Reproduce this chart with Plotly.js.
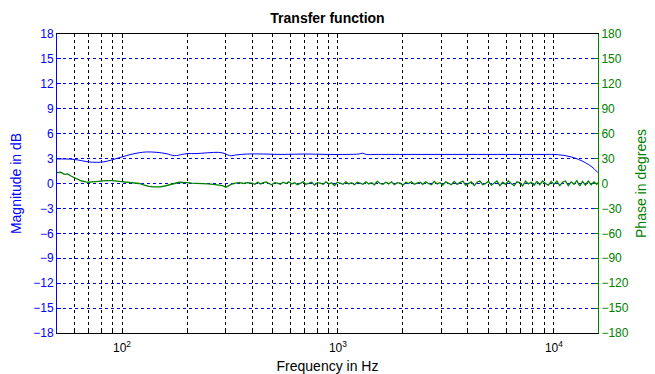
<!DOCTYPE html>
<html><head><meta charset="utf-8">
<script src="https://cdn.plot.ly/plotly-3.0.1.min.js"></script>
<style>html,body{margin:0;padding:0;background:#fff}#plot{width:655px;height:374px}</style>
</head><body><div id="plot"></div>
<script>
// Magnitude (dB) vs frequency (Hz)
const magFreq = [50,55,60,65,70,76,82,90,100,110,120,130,145,160,175,190,200,220,250,280,300,315,340,380,450,550,700,900,1100,1250,1300,1350,1500,2000,3000,5000,7000,9000,10000,11000,12000,13000,14000,15000,16000];
const magDb = [2.95,2.95,2.9,2.75,2.6,2.55,2.6,2.85,3.2,3.5,3.7,3.8,3.75,3.6,3.35,3.5,3.6,3.6,3.7,3.75,3.6,3.35,3.45,3.55,3.55,3.5,3.55,3.5,3.5,3.55,3.65,3.5,3.5,3.5,3.5,3.5,3.5,3.5,3.5,3.4,3.2,2.9,2.5,2.0,1.3];

// Phase (degrees) vs frequency (Hz)
const phaseFreqLow = [50,52,54,56,58,60,62,65,68,70,73,76,80,85,90,95,100,105,110,115,120,127,133,140,150,158,165,175,184,192,200,210,220,235,250,265,280,292,303,310,320,335,350,365,380];
const phaseLow = [13,13.5,11,11.5,9,7,6,3,2,1.5,2,2.5,3,3.5,3.5,3,2.5,2,1.5,0.5,0,-2,-3.5,-4,-4,-3,-2,0,1.5,1.5,1,0.5,0,-0.5,-0.5,-1,-1.5,-2.5,-4.5,-3,-1,0.5,1,0,1];
const phaseFreqHigh = [400,412,425,438,451,465,479,494,509,525,541,558,575,593,611,630,649,669,690,711,733,756,779,803,828,854,880,907,935,964,994,1025,1056,1089,1122,1157,1193,1229,1267,1306,1347,1388,1431,1475,1521,1568,1616,1666,1717,1770,1825,1881,1939,1999,2061,2124,2190,2257,2327,2399,2473,2549,2628,2709,2793,2879,2968,3059,3154,3251,3351,3455,3561,3671,3784,3901,4022,4146,4274,4406,4542,4682,4826,4975,5129,5287,5450,5619,5792,5971,6155,6345,6541,6743,6951,7166,7387,7615,7850,8093,8342,8600,8866,9139,9421,9712,10012,10321,10640,10968,11307,11656,12016,12387,12769,13164,13570,13989,14421,14866,15325,15799,16000];
const phaseHigh = [0.5,-1,1.5,-0.5,1,2,0,-1.5,1,0.5,
 -1,1.5,0,2,-0.5,1,-1.5,0.5,2,-1,
 0,1.5,-2,1,0.5,-1,2,-0.5,1,-2.5,
 1.5,0,-1,2,-0.5,1,-1.5,1.5,0,-1,
 2,-0.5,1,-1.5,2.5,0,-1,1.5,-0.5,2,
 -1.5,1,0.5,-2,1.5,0,2,-1,0.5,1.5,
 -1,2,0,-1.5,2.5,-0.5,1,-2,2,0,
 -1.5,2.5,-1,1,3,-2,0.5,2,-2.5,1.5,
 3,-1.5,0,2.5,-2,1,3,-2.5,1.5,-1,
 3,0,-2.5,2,1,-3,3,-0.5,1.5,-2,
 2.5,-1.5,3,0,-2,2.5,-1,3,-2.5,1.5,
 3,-2.5,2,-1,3.5,-3,2.5,-2,3,-1.5,
 2,-1,1];

const xTickVals = [100,1000,10000];
const xTickText = ['10<sup>2</sup>','10<sup>3</sup>','10<sup>4</sup>'];
const xMinorVals = [60,70,80,90,200,300,400,500,600,700,800,900,2000,3000,4000,5000,6000,7000,8000,9000];

const BLUE = '#0000ff', GREEN = '#008000';
const phaseFreq = phaseFreqLow.concat(phaseFreqHigh);
const phaseDeg = phaseLow.concat(phaseHigh);

const traces = [
  {x: magFreq, y: magDb, type:'scatter', mode:'lines', line:{color:BLUE, width:1, shape:'spline'}, yaxis:'y', hoverinfo:'skip'},
  {x: phaseFreq, y: phaseDeg, type:'scatter', mode:'lines', line:{color:GREEN, width:1.3}, yaxis:'y2', hoverinfo:'skip'}
];

const FAM = 'Liberation Sans, Arial, sans-serif';
const layout = {
  width:655, height:374,
  margin:{l:57, r:57, t:34, b:41},
  paper_bgcolor:'#fff', plot_bgcolor:'#fff',
  showlegend:false,
  font:{family:FAM, size:12, color:'#000'},
  title:{text:'<b>Transfer function</b>', font:{family:FAM, size:14, color:'#000'}, x:0.5, xanchor:'center', y:1-18/374, yanchor:'middle'},
  xaxis:{type:'log', range:[Math.log10(50), Math.log10(16000)],
    tickmode:'array', tickvals:xTickVals, ticktext:xTickText,
    ticks:'inside', ticklen:4, tickcolor:'#000', ticklabelstandoff:4,
    showline:true, linecolor:'#000', linewidth:1, mirror:'ticks',
    showgrid:true, gridcolor:'#000', griddash:'3px,3px', gridwidth:1,
    minor:{tickmode:'array', tickvals:xMinorVals, ticks:'inside', ticklen:2, tickcolor:'#000', showgrid:true, gridcolor:'#000', griddash:'3px,3px', gridwidth:1},
    zeroline:false,
    tickfont:{family:FAM, size:12, color:'#000'},
    title:{text:'Frequency in Hz', font:{family:FAM, size:14, color:'#000'}, standoff:6}
  },
  yaxis:{range:[-18,18], tickmode:'linear', tick0:-18, dtick:3,
    ticks:'inside', ticklen:4, tickcolor:BLUE,
    showline:true, linecolor:BLUE, linewidth:1,
    showgrid:true, gridcolor:BLUE, griddash:'3px,3px', gridwidth:1,
    zeroline:false,
    tickfont:{family:FAM, size:12, color:BLUE},
    title:{text:'Magnitude in dB', font:{family:FAM, size:14, color:BLUE}, standoff:8}
  },
  yaxis2:{overlaying:'y', side:'right', range:[-180,180], tickmode:'linear', tick0:-180, dtick:30,
    ticks:'inside', ticklen:4, tickcolor:GREEN,
    showline:true, linecolor:GREEN, linewidth:1,
    showgrid:false, zeroline:false,
    tickfont:{family:FAM, size:12, color:GREEN},
    title:{text:'Phase in degrees', font:{family:FAM, size:14, color:GREEN}, standoff:8}
  }
};

Plotly.newPlot('plot', traces, layout, {staticPlot:true, displayModeBar:false});
</script>
</body></html>
